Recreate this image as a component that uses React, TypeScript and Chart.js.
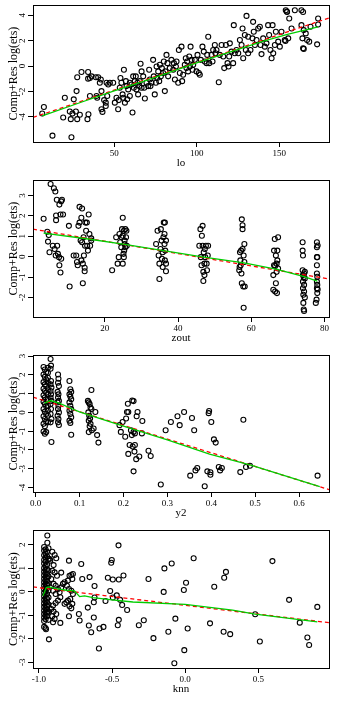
import React, { useEffect, useRef } from 'react';
import { Chart, registerables } from 'chart.js';

Chart.register(...registerables);

type P = [number, number];

const SERIF = '"Liberation Serif", "Times New Roman", serif';
const Y_TITLE = 'Comp+Res log(ets)';

// ---------------- Panel 1: lo ----------------
const loPoints: P[] = [
  [7.4, -3.22], [6.4, -3.74], [12.6, -5.48], [24.1, -5.61], [19.1, -4.05], [20.1, -2.49], [23.1, -3.58],
  [23.7, -4.18], [24.7, -3.74], [25.5, -2.62], [26.8, -3.58], [27.2, -1.97], [27.6, -0.88], [27.6, -4.18],
  [29.2, -3.84], [30.2, -0.47], [33.8, -4.18], [34.4, -3.79], [34.2, -0.47], [34.2, -0.99], [35.3, -0.94],
  [35.3, -2.36], [36.3, -0.81], [38.9, -0.88], [39.3, -2.36], [39.7, -2.49], [40.3, -0.88], [41.3, -1.32],
  [41.9, -1.06], [42.3, -1.97], [42.3, -3.4], [42.9, -3.61], [43.9, -2.68], [44.9, -2.88], [44.9, -3.14],
  [45.4, -1.32], [45.8, -2.36], [46.4, -1.45], [47.4, -1.32], [49.4, -1.32], [50.4, -2.88], [51.4, -2.49],
  [52.4, -3.4], [52.8, -2.68], [53.4, -1.71], [53.8, -0.94], [54.4, -1.32], [55.1, -2.23], [55.5, -2.49],
  [55.9, -0.29], [56.5, -2.88], [57.1, -1.19], [57.5, -1.58], [57.9, -2.62], [58.5, -1.84], [59.5, -1.32],
  [59.5, -2.36], [60.5, -1.45], [61.1, -3.66], [61.5, -0.81], [61.9, -1.71], [62.5, -1.19], [63.1, -0.81],
  [63.5, -1.84], [64.1, -1.32], [64.5, -2.23], [65.2, -1.58], [65.6, -1.19], [66.0, 0.18], [66.6, -0.42],
  [66.6, -1.71], [67.6, -0.81], [68.2, -1.71], [68.6, -2.55], [69.6, -1.32], [70.6, -1.58], [71.2, -0.29],
  [71.6, -1.06], [72.0, -1.58], [72.6, -1.32], [73.6, 0.49], [74.0, -0.81], [74.6, -2.23], [75.3, -1.32],
  [75.7, -0.03], [76.1, -0.94], [76.7, -0.42], [77.3, -1.19], [77.7, 0.1], [78.3, -0.81], [78.9, -0.16],
  [79.7, -0.55], [80.1, 0.36], [80.7, -1.97], [81.1, -0.42], [81.7, 0.88], [82.3, 0.23], [82.7, -0.81],
  [83.7, -0.16], [84.7, 0.49], [85.8, -0.29], [86.2, 0.23], [86.8, -1.06], [87.4, -0.03], [87.8, 0.36],
  [88.8, -1.32], [89.2, 1.27], [89.8, -0.55], [90.8, 1.53], [91.2, -1.19], [91.8, -0.68], [92.8, 0.1],
  [93.4, 0.62], [93.8, -0.16], [94.2, 0.36], [94.8, -0.42], [95.5, 0.75], [95.9, -0.03], [96.3, 1.53],
  [96.9, 0.49], [97.5, -0.29], [97.9, 0.1], [98.9, 0.49], [99.9, -0.42], [100.5, 0.88], [101.3, -0.55],
  [101.9, -0.68], [102.5, 0.49], [103.5, 1.53], [104.3, 1.14], [104.9, 0.36], [106.0, 0.23], [106.4, 0.88],
  [107.0, 2.31], [107.6, 0.23], [109.0, 0.88], [109.6, 0.36], [110.0, 1.27], [111.0, 1.66], [111.4, 1.01],
  [112.0, 1.27], [113.4, -1.27], [114.0, 0.88], [115.1, 1.66], [116.1, 0.75], [116.7, -0.16], [117.7, 1.66],
  [118.7, 0.23], [119.3, -0.03], [119.7, 0.75], [120.1, 1.79], [121.1, 1.14], [122.1, 0.23], [122.5, 3.22],
  [123.1, 1.01], [124.1, 1.27], [125.2, 1.01], [126.2, 2.05], [127.2, 1.66], [127.8, 2.96], [128.2, 0.62],
  [129.2, 2.44], [129.8, 1.27], [130.2, 3.95], [131.2, 2.31], [131.2, 1.01], [132.6, 1.27], [133.8, 2.18],
  [134.2, 3.48], [134.6, 2.7], [135.3, 1.66], [136.3, 2.05], [137.3, 2.96], [138.3, 3.09], [138.7, 1.66],
  [139.3, 0.94], [140.3, 2.18], [141.3, 1.53], [142.3, 1.79], [143.3, 3.22], [143.9, 2.44], [144.7, 1.27],
  [145.4, 0.62], [146.0, 3.22], [146.4, 1.01], [147.4, 1.66], [148.0, 2.7], [149.4, 1.92], [150.4, 1.53],
  [151.4, 2.7], [153.4, 2.05], [154.0, 4.39], [154.8, 4.26], [155.5, 2.18], [156.1, 3.74], [157.5, 2.96],
  [159.5, 4.39], [163.5, 4.39], [164.5, 4.26], [163.5, 3.22], [164.1, 2.18], [164.5, 1.4], [164.9, 2.83],
  [166.1, 2.57], [166.9, 2.05], [168.2, 1.92], [169.0, 3.09], [173.0, 1.71], [173.6, 3.74], [173.6, 3.27],
  [153.8, 1.98], [164.9, 1.35], [154.6, 4.3],
];
const loLowess: P[] = [
  [6.4, -3.92], [30, -2.85], [50, -1.95], [70, -1.1], [90, -0.2], [100, 0.25], [120, 1.1], [140, 1.95],
  [155, 2.5], [173.6, 3.09],
];
const loFit: P[] = [[0.8, -4.05], [180.2, 3.79]];

// ---------------- Panel 2: zout ----------------
const zoutPoints: P[] = [
  [3.3, 1.86], [4.3, 1.22], [4.7, 1.06], [4.5, 0.74], [4.9, 0.22], [5.2, 3.56], [5.8, 0.54], [6.1, 3.35],
  [6.3, 0.38], [6.5, 3.19], [6.6, 0.06], [6.7, 1.79], [6.7, 2.02], [6.9, 2.79], [7.0, 0.54], [7.2, 0.14],
  [7.5, -0.02], [7.6, -0.42], [7.6, 2.55], [7.9, 2.07], [8.1, 2.71], [8.1, -0.1], [7.9, -0.77], [8.3, 2.79],
  [8.6, 2.07], [10.2, 1.51], [10.4, -1.46],
  [11.5, 0.06], [12.2, 0.06], [12.4, -0.26], [12.6, -0.42], [12.8, 1.51], [13.1, 2.44], [13.1, 1.67],
  [13.4, 0.79], [13.6, 1.91], [13.6, -0.18], [13.8, 0.71], [13.8, 2.36], [14.0, -1.3], [14.0, -0.34],
  [14.2, 0.95], [14.3, 0.06], [14.5, -0.54], [14.5, -0.71], [14.6, 0.54], [14.7, 1.67], [14.9, 1.27],
  [15.1, 1.67], [15.2, 0.54], [15.4, 0.3], [15.6, 2.07], [15.8, 1.11], [16.0, 0.54], [16.3, 0.79], [16.3, 0.9],
  [22.0, -0.66], [23.1, 0.95], [23.5, -0.34], [23.8, -0.02], [24.0, 1.11], [24.2, 0.71], [24.5, 0.46],
  [24.6, 0.95], [24.7, 1.35], [24.9, 1.91], [24.9, -0.34], [25.1, 0.14], [25.2, 1.27], [25.4, 0.79],
  [25.4, 0.62], [25.6, 1.35], [25.6, 0.46], [25.8, 0.95], [26.0, 0.54], [25.2, -0.02], [24.9, 1.03],
  [25.9, 1.27], [25.3, 0.3],
  [34.0, 0.62], [34.4, 1.27], [34.9, -1.09], [34.7, 0.06], [34.9, -0.34], [35.2, 0.38], [35.3, 1.35],
  [35.5, 0.79], [35.6, -0.1], [35.8, -0.5], [35.8, 0.22], [36.0, 0.95], [36.1, 1.67], [36.3, 1.11],
  [36.3, 0.62], [36.4, 1.67], [36.4, -0.18], [36.5, 0.3], [36.7, -0.34], [36.7, -0.71], [36.7, 0.79],
  [45.8, 0.54], [46.1, 1.35], [46.2, -0.02], [46.4, -0.42], [46.5, 1.03], [46.7, 0.54], [46.7, 1.51],
  [46.9, -0.74], [46.9, -1.19], [47.0, 0.22], [47.2, -0.34], [47.2, -0.9], [47.3, 0.38], [47.4, -0.02],
  [47.6, 0.54], [47.8, -0.34], [48.1, 0.06], [48.2, 0.54], [47.9, -0.66],
  [56.7, -0.66], [56.9, 0.22], [57.0, -0.18], [57.1, -0.42], [57.3, -0.82], [57.4, -1.3], [57.4, 1.83],
  [57.6, 1.54], [57.6, 0.38], [57.6, 1.35], [57.8, -1.46], [57.9, 0.06], [57.9, -2.5], [58.1, 0.62],
  [58.1, -0.26], [58.2, -1.46], [56.8, -0.5], [57.2, 0.3],
  [66.0, -0.9], [66.0, -1.62], [66.2, 0.3], [66.2, -0.42], [66.4, 0.87], [66.5, -1.7], [66.7, 0.06],
  [66.7, -1.3], [66.9, -0.34], [66.9, -0.74], [67.0, -1.78], [67.1, -0.18], [67.1, 0.3], [67.3, 0.95],
  [67.3, -0.58], [66.5, -0.45],
  [74.0, 0.71], [74.0, 0.3], [74.1, 0.06], [74.0, -0.66], [74.1, -0.9], [74.1, -1.22], [74.1, -1.54],
  [74.2, -1.86], [74.2, -2.26], [74.3, -2.58], [74.4, -2.66], [74.4, -0.82], [74.4, -1.38], [74.4, -1.7],
  [74.6, -1.06], [74.6, -1.99], [74.6, -0.74], [74.3, -1.0],
  [77.6, -2.26], [77.8, -2.1], [77.9, 0.71], [77.9, 0.46], [77.9, -0.02], [77.9, -0.42], [77.9, -0.82],
  [77.9, -1.22], [77.9, -1.54], [78.0, -1.78], [78.0, -0.98], [78.0, -0.02], [78.0, -1.38], [78.1, 0.55],
  [78.1, -1.6],
];
const zoutLowess: P[] = [
  [3.3, 1.15], [15, 0.88], [25, 0.62], [36, 0.3], [47, -0.02], [58, -0.3], [67, -0.62], [74.4, -0.98],
  [78, -1.19],
];
const zoutFit: P[] = [[0.4, 1.35], [81.2, -1.09]];

// ---------------- Panel 3: y2 ----------------
const y2Points: P[] = [
  [0.018, 2.42], [0.021, 2.28], [0.024, 2.14], [0.018, 2.02], [0.021, 1.89], [0.024, 1.75], [0.018, 1.61],
  [0.021, 1.49], [0.024, 1.4], [0.018, 1.26], [0.021, 1.14], [0.024, 1.05], [0.018, 0.91], [0.021, 0.79],
  [0.024, 0.7], [0.018, 0.56], [0.021, 0.44], [0.024, 0.32], [0.018, 0.18], [0.021, 0.04], [0.024, -0.09],
  [0.018, -0.21], [0.021, -0.35], [0.024, -0.49], [0.018, -0.61], [0.021, -0.74], [0.018, -1.02],
  [0.021, -1.14], [0.024, -1.05],
  [0.028, 2.37], [0.028, 2.11], [0.028, 1.84], [0.028, 1.58], [0.028, 1.23], [0.028, 0.96], [0.028, 0.7],
  [0.028, 0.35], [0.028, 0.09], [0.028, -0.18], [0.028, -0.53],
  [0.034, 2.84], [0.035, 2.49], [0.034, 2.32], [0.035, 1.67], [0.034, 1.49], [0.036, 1.32], [0.034, 1.14],
  [0.035, 0.96], [0.034, 0.79], [0.036, 0.61], [0.034, 0.44], [0.035, 0.18], [0.034, -0.09], [0.036, -0.35],
  [0.034, -0.53], [0.036, -1.58],
  [0.051, 2.02], [0.052, 1.79], [0.051, 1.58], [0.053, 1.4], [0.05, 1.09], [0.052, 0.96], [0.051, 0.79],
  [0.053, 0.61], [0.05, 0.53], [0.052, 0.35], [0.051, 0.18], [0.053, 0.0], [0.05, -0.18], [0.052, -0.35],
  [0.051, -0.53], [0.053, -0.67],
  [0.077, 1.67], [0.079, 1.23], [0.081, 1.09], [0.077, 0.96], [0.079, 0.84], [0.081, 0.7], [0.077, 0.53],
  [0.079, 0.35], [0.081, 0.18], [0.077, 0.09], [0.079, -0.09], [0.081, -0.26], [0.077, -0.44],
  [0.079, -0.56], [0.081, -1.19],
  [0.127, 1.19], [0.119, 0.61], [0.121, 0.53], [0.123, 0.44], [0.125, 0.26], [0.127, 0.18], [0.12, 0.0],
  [0.122, -0.18], [0.124, -0.32], [0.121, -0.44], [0.125, -0.61], [0.123, -0.74], [0.132, -0.86],
  [0.121, -1.05], [0.136, 0.02], [0.14, -1.21], [0.143, -1.61], [0.128, -0.95],
  [0.191, -0.68], [0.194, -1.04], [0.198, -0.51], [0.204, -1.3], [0.206, -0.33], [0.208, 0.02],
  [0.21, 0.46], [0.211, 0.02], [0.211, -2.21], [0.214, -1.74], [0.217, -0.95], [0.219, -1.21], [0.22, 0.63],
  [0.221, -1.82], [0.223, -3.14], [0.223, -1.04], [0.225, -2.09], [0.226, -1.74], [0.229, -2.49],
  [0.23, -0.21], [0.232, 0.02], [0.236, -2.35], [0.242, -1.12], [0.243, -0.46], [0.257, -2.04],
  [0.262, -2.32], [0.223, 0.6], [0.226, -1.12],
  [0.285, -3.84], [0.296, -0.95], [0.308, -0.51], [0.323, -0.21], [0.328, -0.68], [0.338, 0.02],
  [0.352, -3.37], [0.356, -0.3], [0.361, -0.95], [0.364, -3.09], [0.368, -2.96], [0.385, -3.93],
  [0.391, -3.14], [0.394, -0.04], [0.395, 0.07], [0.398, -3.19], [0.398, -3.32], [0.4, -0.51],
  [0.406, -1.44], [0.41, -1.61], [0.417, -2.91], [0.42, -3.09], [0.424, -2.96], [0.466, -3.18],
  [0.473, -0.39], [0.479, -2.91], [0.488, -2.84], [0.642, -3.37],
];
const y2Lowess: P[] = [
  [0.02, 0.49], [0.034, 0.63], [0.055, 0.48], [0.08, 0.22], [0.1, 0.03], [0.147, -0.33], [0.2, -0.73],
  [0.3, -1.47], [0.396, -2.22], [0.49, -2.81], [0.647, -3.96],
];
const y2Fit: P[] = [[-0.006, 0.81], [0.668, -4.11]];

// ---------------- Panel 4: knn ----------------
const knnPoints: P[] = [
  [-0.965, 1.9], [-0.965, 1.75], [-0.965, 1.55], [-0.965, 1.35], [-0.965, 1.2], [-0.965, 1.0], [-0.965, 0.85],
  [-0.965, 0.7], [-0.965, 0.55], [-0.965, 0.4], [-0.965, 0.25], [-0.965, 0.1], [-0.965, -0.05], [-0.965, -0.2],
  [-0.965, -0.35], [-0.965, -0.5], [-0.965, -0.65], [-0.965, -0.8], [-0.965, -0.95], [-0.965, -1.1],
  [-0.965, -1.25], [-0.965, -1.5],
  [-0.955, 1.8], [-0.955, 1.62], [-0.955, 1.45], [-0.955, 1.28], [-0.955, 1.1], [-0.955, 0.92], [-0.955, 0.78],
  [-0.955, 0.62], [-0.955, 0.48], [-0.955, 0.32], [-0.955, 0.18], [-0.955, 0.02], [-0.955, -0.12],
  [-0.955, -0.28], [-0.955, -0.42], [-0.955, -0.58], [-0.955, -0.72], [-0.955, -0.88], [-0.955, -1.02],
  [-0.955, -1.18], [-0.955, -1.55], [-0.952, -1.6],
  [-0.943, 2.39], [-0.943, 2.08], [-0.945, 1.7], [-0.945, 1.5], [-0.945, 1.15], [-0.945, 0.95], [-0.945, 0.75],
  [-0.945, 0.6], [-0.945, 0.45], [-0.945, 0.3], [-0.945, 0.15], [-0.945, -0.1], [-0.945, -0.3], [-0.945, -0.45],
  [-0.945, -0.6], [-0.945, -0.75], [-0.945, -0.9], [-0.945, -1.05],
  [-0.935, 1.85], [-0.935, 1.4], [-0.935, 0.9], [-0.935, 0.65], [-0.935, 0.35], [-0.935, 0.05], [-0.935, -0.25],
  [-0.935, -0.55], [-0.935, -0.85], [-0.935, -1.2], [-0.932, -2.03],
  [-0.909, 1.7], [-0.893, 1.56], [-0.923, 1.32], [-0.882, 1.42], [-0.9, 1.13], [-0.909, 0.89], [-0.893, 0.82],
  [-0.877, 0.68], [-0.916, 0.54], [-0.9, 0.33], [-0.886, 0.25], [-0.87, 0.11], [-0.904, 0.04], [-0.886, -0.1],
  [-0.859, -0.03], [-0.848, 0.18], [-0.836, 0.33], [-0.825, 0.4], [-0.854, -0.24], [-0.87, -0.38],
  [-0.886, -0.48], [-0.904, -0.59], [-0.916, -0.74], [-0.9, -0.85], [-0.882, -0.95], [-0.909, -1.05],
  [-0.893, -1.16], [-0.904, -1.3], [-0.854, -1.33], [-0.927, 1.39], [-0.848, 0.81],
  [-0.795, 1.32], [-0.791, 0.68], [-0.779, 0.71], [-0.768, 0.75], [-0.772, 0.54], [-0.802, 0.47],
  [-0.809, 0.25], [-0.795, 0.11], [-0.779, 0.04], [-0.768, -0.1], [-0.786, -0.31], [-0.802, -0.38],
  [-0.772, -0.52], [-0.791, -0.62], [-0.779, -0.71], [-0.813, -0.45], [-0.825, -0.52], [-0.795, -1.05],
  [-0.727, -0.95], [-0.722, -1.23], [-0.711, 1.18], [-0.704, 0.54], [-0.659, -1.44], [-0.643, -1.73],
  [-0.654, 0.62], [-0.666, -0.68], [-0.62, 0.24], [-0.62, -0.25], [-0.625, -0.45], [-0.625, -1.1],
  [-0.59, -2.42], [-0.586, -1.57], [-0.559, -1.5], [-0.545, -0.4], [-0.529, 0.59], [-0.513, 0.03],
  [-0.506, 1.23], [-0.502, 1.35], [-0.495, 0.52], [-0.495, -0.25], [-0.468, -0.16], [-0.461, -1.43],
  [-0.456, 1.97], [-0.454, 0.52], [-0.454, -1.2], [-0.445, -0.35], [-0.431, -0.57], [-0.422, 0.69],
  [-0.397, -0.78], [-0.317, -1.43], [-0.283, -1.22], [-0.251, 0.54], [-0.217, -1.98], [-0.147, -0.01],
  [-0.142, 0.99], [-0.115, -1.71], [-0.092, 1.2], [-0.074, -3.05], [-0.067, -1.15], [-0.009, 0.07],
  [-0.006, -2.49], [0.006, 0.38], [0.017, -1.57], [0.058, 1.42], [0.17, -1.35], [0.199, 0.21],
  [0.263, -1.71], [0.267, 0.59], [0.279, 0.84], [0.308, -1.81], [0.479, -0.96], [0.511, -2.12],
  [0.597, 1.3], [0.711, -0.35], [0.784, -1.32], [0.836, -1.95], [0.848, -2.27], [0.904, -0.65],
];
const knnLowess: P[] = [
  [-0.973, -0.18], [-0.95, 0.17], [-0.932, 0.2], [-0.882, 0.13], [-0.813, 0.06], [-0.757, 0.03],
  [-0.722, -0.21], [-0.688, -0.18], [-0.631, -0.25], [-0.5, -0.35], [-0.358, -0.44], [0, -0.54],
  [0.324, -0.79], [0.479, -0.96], [0.904, -1.29],
];
const knnFit: P[] = [[-1.041, 0.2], [0.984, -1.32]];

interface PanelSpec {
  xTitle: string;
  points: P[];
  lowess: P[];
  fit: P[];
  xMin: number; xMax: number; xStep: number; xDec: number;
  yMin: number; yMax: number; yStep: number;
}

const panels: PanelSpec[] = [
  { xTitle: 'lo', points: loPoints, lowess: loLowess, fit: loFit, xMin: 0.8, xMax: 180.2, xStep: 50, xDec: 0, yMin: -5.98, yMax: 4.8, yStep: 2 },
  { xTitle: 'zout', points: zoutPoints, lowess: zoutLowess, fit: zoutFit, xMin: 0.4, xMax: 81.2, xStep: 20, xDec: 0, yMin: -2.95, yMax: 3.75, yStep: 1 },
  { xTitle: 'y2', points: y2Points, lowess: y2Lowess, fit: y2Fit, xMin: -0.006, xMax: 0.668, xStep: 0.1, xDec: 1, yMin: -4.24, yMax: 3.05, yStep: 1 },
  { xTitle: 'knn', points: knnPoints, lowess: knnLowess, fit: knnFit, xMin: -1.041, xMax: 0.984, xStep: 0.5, xDec: 1, yMin: -3.25, yMax: 2.62, yStep: 1 },
];

const toXY = (arr: P[]) => arr.map(([x, y]) => ({ x, y }));

const rBox = {
  id: 'rBox',
  afterDraw(chart: any) {
    const { ctx, chartArea: a } = chart;
    ctx.save();
    ctx.strokeStyle = '#000';
    ctx.lineWidth = 1;
    const l = Math.round(a.left) + 0.5;
    const t = Math.round(a.top) + 0.5;
    const r = Math.round(a.right) + 0.5;
    const b = Math.round(a.bottom) + 0.5;
    ctx.strokeRect(l, t, r - l, b - t);
    const ys = chart.scales.y;
    ctx.fillStyle = '#000';
    ctx.font = `9px ${SERIF}`;
    ctx.textAlign = 'center';
    ctx.textBaseline = 'middle';
    ys.ticks.forEach((tk: any) => {
      const py = ys.getPixelForValue(tk.value);
      ctx.save();
      ctx.translate(23, py);
      ctx.rotate(-Math.PI / 2);
      ctx.fillText(String(Math.round(tk.value)), 0, 0);
      ctx.restore();
    });
    ctx.restore();
  },
};

function Panel({ spec, top, height }: { spec: PanelSpec; top: number; height: number }) {
  const ref = useRef<HTMLCanvasElement>(null);
  useEffect(() => {
    if (!ref.current) return;
    const chart = new Chart(ref.current, {
      type: 'scatter',
      data: {
        datasets: [
          {
            data: toXY(spec.lowess),
            showLine: true,
            borderColor: 'rgb(0,205,0)',
            borderWidth: 1.3,
            pointRadius: 0,
            fill: false,
            tension: 0,
            order: 1,
          } as any,
          {
            data: toXY(spec.fit),
            showLine: true,
            borderColor: 'rgb(255,0,0)',
            borderWidth: 1.3,
            borderDash: [4, 3],
            pointRadius: 0,
            fill: false,
            order: 2,
          } as any,
          {
            data: toXY(spec.points),
            showLine: false,
            pointStyle: 'circle',
            pointRadius: 2.5,
            pointBorderWidth: 1.1,
            pointBorderColor: '#000',
            pointBackgroundColor: 'rgba(0,0,0,0)',
            borderColor: '#000',
            backgroundColor: 'rgba(0,0,0,0)',
            order: 3,
          } as any,
        ],
      },
      options: {
        responsive: false,
        animation: false,
        devicePixelRatio: 1,
        layout: { padding: { top: 3, right: 12, left: 0, bottom: 0 } },
        plugins: { legend: { display: false }, tooltip: { enabled: false } },
        scales: {
          x: {
            type: 'linear',
            min: spec.xMin,
            max: spec.xMax,
            afterFit: (s: any) => { s.height = 33; },
            ticks: {
              stepSize: spec.xStep,
              includeBounds: false,
              autoSkip: false,
              maxRotation: 0,
              minRotation: 0,
              padding: 1,
              color: '#000',
              font: { family: SERIF, size: 9 },
              callback: (v: any) => Number(v).toFixed(spec.xDec),
            },
            grid: { drawOnChartArea: false, drawTicks: true, tickLength: 5, color: '#000', lineWidth: 1 },
            border: { display: true, color: '#000', width: 1 },
            title: {
              display: true,
              text: spec.xTitle,
              color: '#000',
              font: { family: SERIF, size: 11 },
              padding: { top: 0, bottom: 5 },
            },
          },
          y: {
            type: 'linear',
            min: spec.yMin,
            max: spec.yMax,
            afterFit: (s: any) => { s.width = 33; },
            ticks: { stepSize: spec.yStep, includeBounds: false, display: false },
            grid: { drawOnChartArea: false, drawTicks: true, tickLength: 5, color: '#000', lineWidth: 1 },
            border: { display: true, color: '#000', width: 1 },
            title: {
              display: true,
              text: Y_TITLE,
              color: '#000',
              font: { family: SERIF, size: 12 },
              padding: { top: 7, bottom: 0 },
            },
          },
        },
      } as any,
      plugins: [rBox],
    });
    return () => chart.destroy();
  }, [spec]);
  return (
    <div style={{ position: 'absolute', left: 0, top, width: 341, height }}>
      <canvas ref={ref} width={341} height={height} style={{ width: 341, height, display: 'block' }} />
    </div>
  );
}

export default function App() {
  const tops = [0, 175, 350, 525];
  const heights = [175, 175, 175, 176];
  return (
    <div style={{ position: 'absolute', left: 0, top: 0, width: 341, height: 701, background: '#fff' }}>
      {panels.map((p, i) => (
        <Panel key={p.xTitle} spec={p} top={tops[i]} height={heights[i]} />
      ))}
    </div>
  );
}
